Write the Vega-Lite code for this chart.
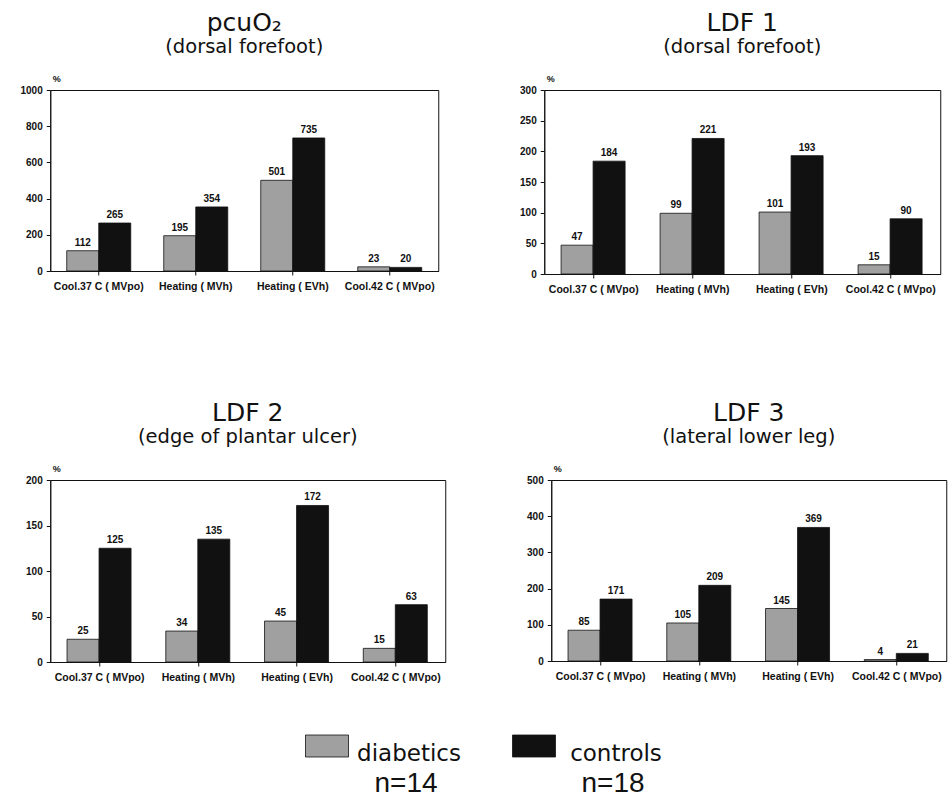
{
  "$schema": "https://vega.github.io/schema/vega-lite/v6.json",
  "background": "white",
  "padding": {"left": 19, "top": 10, "right": 5, "bottom": 5},
  "datasets": {
    "bars": [
      {"panel": "p1", "cond": "Cool.37 C ( MVpo)", "group": "diabetics", "value": 112},
      {"panel": "p1", "cond": "Cool.37 C ( MVpo)", "group": "controls", "value": 265},
      {"panel": "p1", "cond": "Heating ( MVh)", "group": "diabetics", "value": 195},
      {"panel": "p1", "cond": "Heating ( MVh)", "group": "controls", "value": 354},
      {"panel": "p1", "cond": "Heating ( EVh)", "group": "diabetics", "value": 501},
      {"panel": "p1", "cond": "Heating ( EVh)", "group": "controls", "value": 735},
      {"panel": "p1", "cond": "Cool.42 C ( MVpo)", "group": "diabetics", "value": 23},
      {"panel": "p1", "cond": "Cool.42 C ( MVpo)", "group": "controls", "value": 20},
      {"panel": "p2", "cond": "Cool.37 C ( MVpo)", "group": "diabetics", "value": 47},
      {"panel": "p2", "cond": "Cool.37 C ( MVpo)", "group": "controls", "value": 184},
      {"panel": "p2", "cond": "Heating ( MVh)", "group": "diabetics", "value": 99},
      {"panel": "p2", "cond": "Heating ( MVh)", "group": "controls", "value": 221},
      {"panel": "p2", "cond": "Heating ( EVh)", "group": "diabetics", "value": 101},
      {"panel": "p2", "cond": "Heating ( EVh)", "group": "controls", "value": 193},
      {"panel": "p2", "cond": "Cool.42 C ( MVpo)", "group": "diabetics", "value": 15},
      {"panel": "p2", "cond": "Cool.42 C ( MVpo)", "group": "controls", "value": 90},
      {"panel": "p3", "cond": "Cool.37 C ( MVpo)", "group": "diabetics", "value": 25},
      {"panel": "p3", "cond": "Cool.37 C ( MVpo)", "group": "controls", "value": 125},
      {"panel": "p3", "cond": "Heating ( MVh)", "group": "diabetics", "value": 34},
      {"panel": "p3", "cond": "Heating ( MVh)", "group": "controls", "value": 135},
      {"panel": "p3", "cond": "Heating ( EVh)", "group": "diabetics", "value": 45},
      {"panel": "p3", "cond": "Heating ( EVh)", "group": "controls", "value": 172},
      {"panel": "p3", "cond": "Cool.42 C ( MVpo)", "group": "diabetics", "value": 15},
      {"panel": "p3", "cond": "Cool.42 C ( MVpo)", "group": "controls", "value": 63},
      {"panel": "p4", "cond": "Cool.37 C ( MVpo)", "group": "diabetics", "value": 85},
      {"panel": "p4", "cond": "Cool.37 C ( MVpo)", "group": "controls", "value": 171},
      {"panel": "p4", "cond": "Heating ( MVh)", "group": "diabetics", "value": 105},
      {"panel": "p4", "cond": "Heating ( MVh)", "group": "controls", "value": 209},
      {"panel": "p4", "cond": "Heating ( EVh)", "group": "diabetics", "value": 145},
      {"panel": "p4", "cond": "Heating ( EVh)", "group": "controls", "value": 369},
      {"panel": "p4", "cond": "Cool.42 C ( MVpo)", "group": "diabetics", "value": 4},
      {"panel": "p4", "cond": "Cool.42 C ( MVpo)", "group": "controls", "value": 21}
    ],
    "legend": [
      {"group": "diabetics", "n": "n=14"},
      {"group": "controls", "n": "n=18"}
    ]
  },
  "config": {
    "view": {"stroke": "#111111", "strokeWidth": 1},
    "axis": {
      "grid": false,
      "labelFont": "Liberation Sans",
      "labelFontWeight": "bold",
      "labelColor": "#111111",
      "domainColor": "#111111",
      "tickColor": "#111111",
      "titleFont": "Liberation Sans",
      "titleColor": "#111111"
    },
    "title": {
      "font": "DejaVu Sans",
      "fontWeight": "normal",
      "color": "#111111",
      "subtitleFont": "DejaVu Sans",
      "subtitleColor": "#111111",
      "fontSize": 25,
      "subtitleFontSize": 19.5,
      "anchor": "middle",
      "frame": "group",
      "subtitlePadding": 2,
      "offset": 18
    }
  },
  "center": true,
  "spacing": 51,
  "vconcat": [
    {
      "spacing": 105,
      "vconcat": [
        {
          "spacing": 79,
          "hconcat": [
            {
              "title": {"text": "pcuO₂", "subtitle": "(dorsal forefoot)"},
              "width": 388, "height": 181,
              "data": {"name": "bars"},
              "transform": [{"filter": "datum.panel == 'p1'"}],
              "encoding": {
                "x": {"field": "cond", "type": "nominal", "sort": ["Cool.37 C ( MVpo)", "Heating ( MVh)", "Heating ( EVh)", "Cool.42 C ( MVpo)"],
                      "scale": {"paddingInner": 0.34, "paddingOuter": 0.17},
                      "axis": {"title": null, "labelAngle": 0, "labelFontSize": 10.5, "tickSize": 4, "labelPadding": 6}},
                "xOffset": {"field": "group", "type": "nominal", "sort": ["diabetics", "controls"]},
                "y": {"field": "value", "type": "quantitative", "scale": {"domain": [0, 1000], "nice": false},
                      "axis": {"values": [0, 200, 400, 600, 800, 1000], "format": "d", "labelFontSize": 10, "tickSize": 4, "labelPadding": 4,
                               "title": "%", "titleAngle": 0, "titleX": 2, "titleY": -7, "titleAlign": "left", "titleBaseline": "bottom", "titleFontSize": 9, "titleFontWeight": "bold"}}
              },
              "layer": [
                {"mark": {"type": "bar", "stroke": "#111111", "strokeWidth": 0.8},
                 "encoding": {"fill": {"field": "group", "type": "nominal", "scale": {"domain": ["diabetics", "controls"], "range": ["#a0a0a0", "#111111"]}, "legend": null}}},
                {"mark": {"type": "text", "baseline": "bottom", "dy": -3, "font": "Liberation Sans", "fontWeight": "bold", "fontSize": 10, "color": "#111111"},
                 "encoding": {"text": {"field": "value", "type": "quantitative"}}}
              ]
            },
            {
              "title": {"text": "LDF 1", "subtitle": "(dorsal forefoot)"},
              "width": 396, "height": 184,
              "data": {"name": "bars"},
              "transform": [{"filter": "datum.panel == 'p2'"}],
              "encoding": {
                "x": {"field": "cond", "type": "nominal", "sort": ["Cool.37 C ( MVpo)", "Heating ( MVh)", "Heating ( EVh)", "Cool.42 C ( MVpo)"],
                      "scale": {"paddingInner": 0.34, "paddingOuter": 0.17},
                      "axis": {"title": null, "labelAngle": 0, "labelFontSize": 10.5, "tickSize": 4, "labelPadding": 6}},
                "xOffset": {"field": "group", "type": "nominal", "sort": ["diabetics", "controls"]},
                "y": {"field": "value", "type": "quantitative", "scale": {"domain": [0, 300], "nice": false},
                      "axis": {"values": [0, 50, 100, 150, 200, 250, 300], "format": "d", "labelFontSize": 10, "tickSize": 4, "labelPadding": 4,
                               "title": "%", "titleAngle": 0, "titleX": 2, "titleY": -7, "titleAlign": "left", "titleBaseline": "bottom", "titleFontSize": 9, "titleFontWeight": "bold"}}
              },
              "layer": [
                {"mark": {"type": "bar", "stroke": "#111111", "strokeWidth": 0.8},
                 "encoding": {"fill": {"field": "group", "type": "nominal", "scale": {"domain": ["diabetics", "controls"], "range": ["#a0a0a0", "#111111"]}, "legend": null}}},
                {"mark": {"type": "text", "baseline": "bottom", "dy": -3, "font": "Liberation Sans", "fontWeight": "bold", "fontSize": 10, "color": "#111111"},
                 "encoding": {"text": {"field": "value", "type": "quantitative"}}}
              ]
            }
          ]
        },
        {
          "spacing": 79,
          "hconcat": [
            {
              "title": {"text": "LDF 2", "subtitle": "(edge of plantar ulcer)"},
              "width": 395, "height": 182,
              "data": {"name": "bars"},
              "transform": [{"filter": "datum.panel == 'p3'"}],
              "encoding": {
                "x": {"field": "cond", "type": "nominal", "sort": ["Cool.37 C ( MVpo)", "Heating ( MVh)", "Heating ( EVh)", "Cool.42 C ( MVpo)"],
                      "scale": {"paddingInner": 0.34, "paddingOuter": 0.17},
                      "axis": {"title": null, "labelAngle": 0, "labelFontSize": 10.5, "tickSize": 4, "labelPadding": 6}},
                "xOffset": {"field": "group", "type": "nominal", "sort": ["diabetics", "controls"]},
                "y": {"field": "value", "type": "quantitative", "scale": {"domain": [0, 200], "nice": false},
                      "axis": {"values": [0, 50, 100, 150, 200], "format": "d", "labelFontSize": 10, "tickSize": 4, "labelPadding": 4,
                               "title": "%", "titleAngle": 0, "titleX": 2, "titleY": -7, "titleAlign": "left", "titleBaseline": "bottom", "titleFontSize": 9, "titleFontWeight": "bold"}}
              },
              "layer": [
                {"mark": {"type": "bar", "stroke": "#111111", "strokeWidth": 0.8},
                 "encoding": {"fill": {"field": "group", "type": "nominal", "scale": {"domain": ["diabetics", "controls"], "range": ["#a0a0a0", "#111111"]}, "legend": null}}},
                {"mark": {"type": "text", "baseline": "bottom", "dy": -3, "font": "Liberation Sans", "fontWeight": "bold", "fontSize": 10, "color": "#111111"},
                 "encoding": {"text": {"field": "value", "type": "quantitative"}}}
              ]
            },
            {
              "title": {"text": "LDF 3", "subtitle": "(lateral lower leg)"},
              "width": 395, "height": 181,
              "data": {"name": "bars"},
              "transform": [{"filter": "datum.panel == 'p4'"}],
              "encoding": {
                "x": {"field": "cond", "type": "nominal", "sort": ["Cool.37 C ( MVpo)", "Heating ( MVh)", "Heating ( EVh)", "Cool.42 C ( MVpo)"],
                      "scale": {"paddingInner": 0.34, "paddingOuter": 0.17},
                      "axis": {"title": null, "labelAngle": 0, "labelFontSize": 10.5, "tickSize": 4, "labelPadding": 6}},
                "xOffset": {"field": "group", "type": "nominal", "sort": ["diabetics", "controls"]},
                "y": {"field": "value", "type": "quantitative", "scale": {"domain": [0, 500], "nice": false},
                      "axis": {"values": [0, 100, 200, 300, 400, 500], "format": "d", "labelFontSize": 10, "tickSize": 4, "labelPadding": 4,
                               "title": "%", "titleAngle": 0, "titleX": 2, "titleY": -7, "titleAlign": "left", "titleBaseline": "bottom", "titleFontSize": 9, "titleFontWeight": "bold"}}
              },
              "layer": [
                {"mark": {"type": "bar", "stroke": "#111111", "strokeWidth": 0.8},
                 "encoding": {"fill": {"field": "group", "type": "nominal", "scale": {"domain": ["diabetics", "controls"], "range": ["#a0a0a0", "#111111"]}, "legend": null}}},
                {"mark": {"type": "text", "baseline": "bottom", "dy": -3, "font": "Liberation Sans", "fontWeight": "bold", "fontSize": 10, "color": "#111111"},
                 "encoding": {"text": {"field": "value", "type": "quantitative"}}}
              ]
            }
          ]
        }
      ]
    },
    {
      "width": 414, "height": 22,
      "view": {"stroke": null},
      "data": {"name": "legend"},
      "encoding": {
        "x": {"field": "group", "type": "nominal", "sort": ["diabetics", "controls"], "scale": {"paddingInner": 0, "paddingOuter": 0}, "axis": null}
      },
      "layer": [
        {"mark": {"type": "bar", "width": 43, "xOffset": -68, "stroke": "#111111", "strokeWidth": 0.8},
         "encoding": {"fill": {"field": "group", "type": "nominal", "scale": {"domain": ["diabetics", "controls"], "range": ["#a0a0a0", "#111111"]}, "legend": null}}},
        {"mark": {"type": "text", "baseline": "alphabetic", "dx": 14, "dy": 15, "font": "DejaVu Sans", "fontSize": 23, "color": "#111111"},
         "encoding": {"text": {"field": "group", "type": "nominal"}}},
        {"mark": {"type": "text", "baseline": "alphabetic", "dx": 11, "dy": 46, "font": "Liberation Sans", "fontSize": 28, "color": "#111111"},
         "encoding": {"text": {"field": "n", "type": "nominal"}}}
      ]
    }
  ]
}
